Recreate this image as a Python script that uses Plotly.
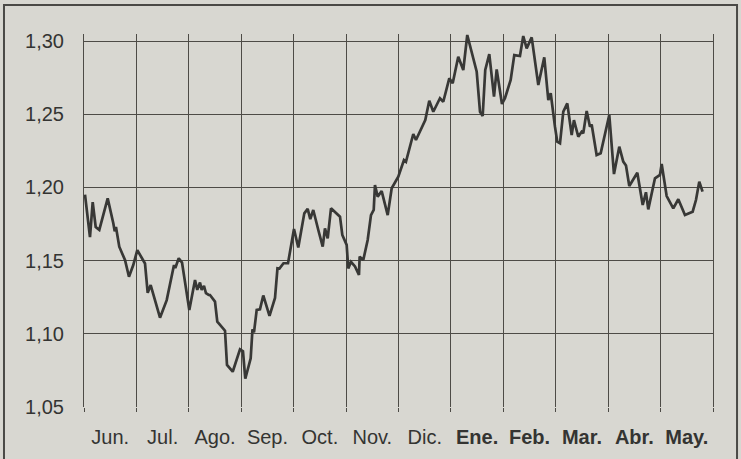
import plotly.graph_objects as go

# Month labels (Jun. 2003 - May 2004); bold for the new year
month_labels = ["Jun.", "Jul.", "Ago.", "Sep.", "Oct.", "Nov.", "Dic.",
                "<b>Ene.</b>", "<b>Feb.</b>", "<b>Mar.</b>", "<b>Abr.</b>", "<b>May.</b>"]
month_centers = [i + 0.5 for i in range(12)]

y_ticks = [1.05, 1.10, 1.15, 1.20, 1.25, 1.30]

# time in months since start of June
t = [0.019, 0.114, 0.166, 0.223, 0.292, 0.452, 0.559, 0.586, 0.610, 0.673,
     0.782, 0.858, 0.940, 1.017, 1.164, 1.215, 1.272, 1.450, 1.578, 1.717,
     1.742, 1.807, 1.870, 2.009, 2.118, 2.161, 2.213, 2.245, 2.289, 2.327,
     2.379, 2.404, 2.499, 2.543, 2.690, 2.728, 2.837, 2.976, 3.033, 3.077,
     3.180, 3.214, 3.243, 3.295, 3.357, 3.420, 3.539, 3.644, 3.691, 3.729,
     3.806, 3.892, 4.006, 4.088, 4.203, 4.267, 4.317, 4.374, 4.470, 4.554,
     4.597, 4.649, 4.712, 4.788, 4.884, 4.928, 5.011, 5.042, 5.093, 5.170,
     5.246, 5.259, 5.328, 5.412, 5.475, 5.527, 5.551, 5.603, 5.679, 5.794,
     5.870, 5.996, 6.104, 6.142, 6.282, 6.333, 6.442, 6.511, 6.587, 6.664,
     6.791, 6.854, 6.969, 7.034, 7.140, 7.186, 7.236, 7.312, 7.492, 7.555,
     7.606, 7.655, 7.732, 7.822, 7.873, 7.974, 8.031, 8.140, 8.209, 8.317,
     8.380, 8.445, 8.541, 8.667, 8.781, 8.858, 8.904, 8.985, 9.029, 9.081,
     9.144, 9.220, 9.304, 9.347, 9.430, 9.494, 9.525, 9.590, 9.653, 9.685,
     9.780, 9.857, 10.021, 10.111, 10.212, 10.288, 10.340, 10.403, 10.556, 10.659,
     10.721, 10.765, 10.893, 10.988, 11.021, 11.116, 11.242, 11.338, 11.465, 11.612,
     11.675, 11.738, 11.801]

rate = [1.195, 1.166, 1.190, 1.173, 1.171, 1.1925, 1.1755, 1.170, 1.173, 1.1595,
        1.1504, 1.139, 1.147, 1.1572, 1.148, 1.128, 1.1333, 1.111, 1.123, 1.147,
        1.145, 1.1516, 1.1486, 1.1163, 1.1367, 1.130, 1.135, 1.130, 1.1327, 1.1277,
        1.1265, 1.1265, 1.122, 1.1083, 1.1021, 1.0787, 1.0741, 1.0894, 1.088, 1.0693,
        1.0833, 1.103, 1.101, 1.1163, 1.1167, 1.1262, 1.1122, 1.1245, 1.1447, 1.1445,
        1.1482, 1.1482, 1.1716, 1.159, 1.1823, 1.1853, 1.1784, 1.1846, 1.1709, 1.1595,
        1.172, 1.1652, 1.1857, 1.183, 1.180, 1.1675, 1.1607, 1.1447, 1.1492, 1.146,
        1.1402, 1.1527, 1.1504, 1.1641, 1.1811, 1.1846, 1.2016, 1.1937, 1.1975, 1.1811,
        1.1994, 1.2073, 1.2187, 1.2175, 1.2365, 1.2324, 1.2415, 1.246, 1.2592, 1.2517,
        1.2609, 1.2585, 1.2745, 1.2711, 1.2893, 1.2850, 1.2802, 1.3041, 1.279, 1.2517,
        1.2488, 1.2802, 1.2911, 1.262, 1.2806, 1.257, 1.2609, 1.2734, 1.2904, 1.2898,
        1.3034, 1.295, 1.3025, 1.270, 1.2889, 1.2597, 1.2643, 1.2415, 1.2312, 1.2301,
        1.2517, 1.2574, 1.2358, 1.246, 1.2346, 1.238, 1.237, 1.2522, 1.2415, 1.243,
        1.2221, 1.2233, 1.2495, 1.2091, 1.2278, 1.2176, 1.215, 1.201, 1.2100, 1.188,
        1.1967, 1.185, 1.2062, 1.2085, 1.216, 1.1941, 1.1857, 1.1919, 1.1811, 1.1834,
        1.1914, 1.2039, 1.1971]

BG = "#d8d7d1"
INK = "#383836"
GRID = "#4d4b46"
FONT = "Liberation Sans, Arial, Helvetica, sans-serif"

fig = go.Figure()
fig.add_trace(go.Scatter(x=t, y=rate, mode="lines",
                         line=dict(color=INK, width=2.7), hoverinfo="skip"))

fig.update_layout(
    width=741, height=459,
    paper_bgcolor=BG, plot_bgcolor=BG,
    margin=dict(l=84, r=28, t=34, b=52, autoexpand=False),
    separators=",.",
    showlegend=False,
    hovermode=False,
    font=dict(family=FONT, size=20, color="#343432"),
    xaxis=dict(
        range=[0, 12], tickmode="array", tickvals=month_centers, ticktext=month_labels,
        showgrid=False, ticks="", zeroline=False, showline=False,
        ticklabelstandoff=16,
        minor=dict(tick0=0, dtick=1, showgrid=True, gridcolor=GRID, gridwidth=1,
                   ticks="outside", ticklen=4, tickcolor=GRID, tickwidth=1),
    ),
    yaxis=dict(
        range=[1.05, 1.3048], tickmode="array", tickvals=y_ticks, tickformat=".2f",
        showgrid=True, gridcolor=GRID, gridwidth=1, zeroline=False,
        showline=True, mirror=True, linecolor=GRID, linewidth=1,
        ticks="", ticklabelstandoff=15,
    ),
    shapes=[dict(type="rect", xref="paper", yref="paper",
                 x0=-0.1272, x1=1.0382, y0=-0.25, y1=1.0777,
                 line=dict(color="#4a4946", width=2), fillcolor="rgba(0,0,0,0)", layer="below")],
)

fig.write_html("out.html",
               config={"displayModeBar": False, "staticPlot": True},
               post_script="document.body.style.margin='0px';"
                           "document.body.style.background='" + BG + "';")
